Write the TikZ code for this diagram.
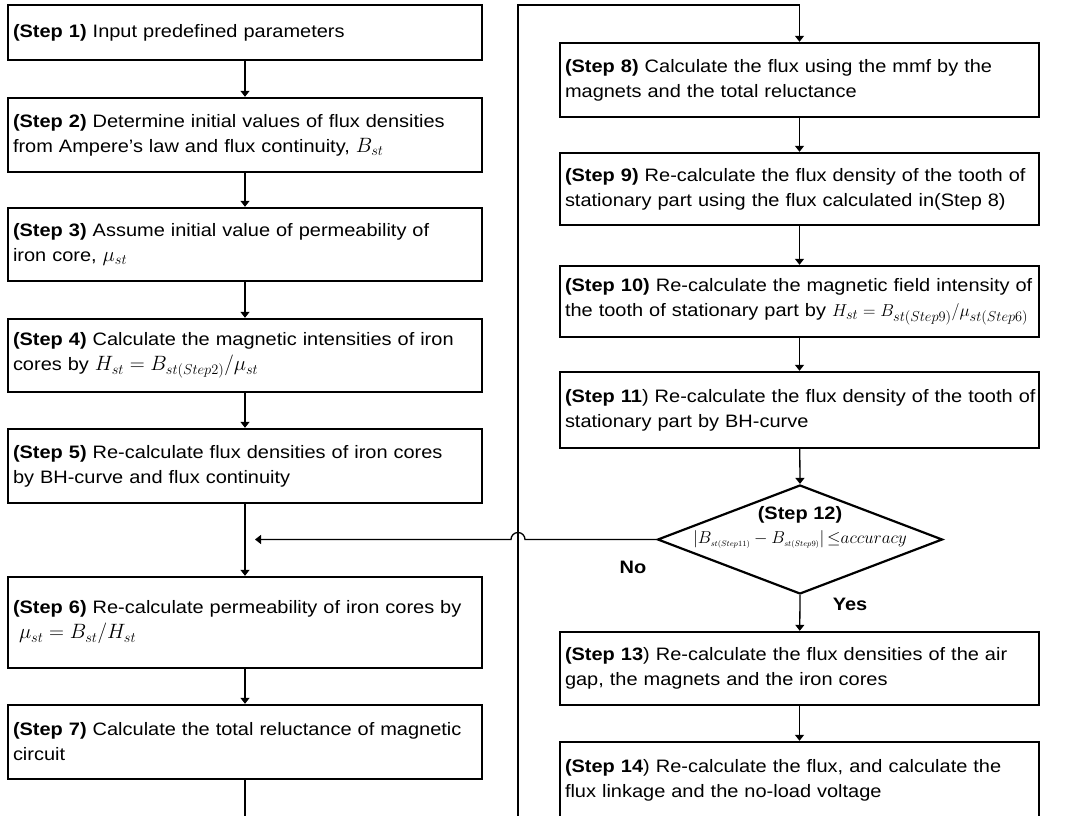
\documentclass[tikz,border=0pt]{standalone}
\usepackage{fontspec}
\setmainfont{Liberation Sans}[FakeStretch=1.11]
\usetikzlibrary{arrows.meta,shapes.geometric}
\newcommand{\mth}[1]{{\fontsize{21}{25}\selectfont$#1$}}

\begin{document}
\begin{tikzpicture}[x=1pt,y=1pt,
    >={Triangle[length=6pt,width=9pt]},
    stepbox/.style={draw,line width=2.4pt,rectangle,align=left,inner xsep=5pt,inner ysep=0pt,font=\fontsize{18}{25}\selectfont},
    leftbox/.style={stepbox,text width=464pt},
    rightbox/.style={stepbox,text width=469pt},
    link/.style={line width=1.3pt,->}]
    \clip (0,0) rectangle (1065,815);
    % left column
    \node[leftbox,minimum height=55pt] (b1) at (245,782.5) {\textbf{(Step 1)} Input predefined parameters};
    \node[leftbox,minimum height=74pt] (b2) at (245,680) {\textbf{(Step 2)} Determine initial values of flux densities\\from Ampere’s law and flux continuity, \mth{B_{st}}};
    \node[leftbox,minimum height=73pt] (b3) at (245,570.5) {\textbf{(Step 3)} Assume initial value of permeability of\\iron core, \mth{\mu_{st}}};
    \node[leftbox,minimum height=73pt] (b4) at (245,459.5) {\textbf{(Step 4)} Calculate the magnetic intensities of iron\\cores by \mth{H_{st}=B_{st(Step2)}\Big/\mu_{st}}};
    \node[leftbox,minimum height=74pt] (b5) at (245,349) {\textbf{(Step 5)} Re-calculate flux densities of iron cores\\by BH-curve and flux continuity};
    \node[leftbox,minimum height=91pt] (b6) at (245,192.5) {\mbox{\textbf{(Step 6)} Re-calculate permeability of iron cores by}\\\ \mth{\mu_{st}=B_{st}\Big/H_{st}}};
    \node[leftbox,minimum height=74pt] (b7) at (245,73) {\mbox{\textbf{(Step 7)} Calculate the total reluctance of magnetic}\\circuit};
    % right column
    \node[rightbox,minimum height=74pt] (b8) at (799.5,735) {\textbf{(Step 8)} Calculate the flux using the mmf by the\\magnets and the total reluctance};
    \node[rightbox,minimum height=72pt] (b9) at (799.5,626) {\textbf{(Step 9)} Re-calculate the flux density of the tooth of\\stationary part using the flux calculated in(Step 8)};
    \node[rightbox,minimum height=71pt] (b10) at (799.5,513.5) {\mbox{\textbf{(Step 10)} Re-calculate the magnetic field intensity of}\\\mbox{the tooth of stationary part by {\fontsize{19}{25}\selectfont$H_{st}=B_{st(Step9)}\Big/\mu_{st(Step6)}$}}};
    \node[rightbox,minimum height=76pt] (b11) at (799.5,405) {\mbox{\textbf{(Step 11}) Re-calculate the flux density of the tooth of}\\stationary part by BH-curve};
    \node[draw,diamond,line width=2.2pt,minimum width=285pt,minimum height=109pt,inner sep=0pt] (d12) at (800,275.5) {};
    \node[align=center,inner sep=0pt,font=\fontsize{18}{24}\selectfont] (d12t) at ([yshift=12pt]d12.center) {\textbf{(Step 12)}\\{\fontsize{16}{18}\selectfont$\left|B_{\scriptscriptstyle st(Step11)}-B_{\scriptscriptstyle st(Step9)}\right|{\le}accuracy$}};
    \node[rightbox,minimum height=73pt] (b13) at (799.5,146.5) {\textbf{(Step 13}) Re-calculate the flux densities of the air\\gap, the magnets and the iron cores};
    \node[rightbox,minimum height=76pt] (b14) at (799.5,35) {\textbf{(Step 14}) Re-calculate the flux, and calculate the\\flux linkage and the no-load voltage};
    \node[font=\bfseries\fontsize{18}{22}\selectfont] (no) at (633,248) {No};
    \node[font=\bfseries\fontsize{18}{22}\selectfont] (yes) at (850,211) {Yes};
    % connectors
    \draw[link] (b1) -- (b2);
    \draw[link] (b2) -- (b3);
    \draw[link] (b3) -- (b4);
    \draw[link] (b4) -- (b5);
    \draw[link] (b5) -- (b6);
    \draw[link] (b6) -- (b7);
    \draw[link] (b7.south) -- (245,-30) -- (518,-30) -- (518,810) -| (b8.north);
    \draw[link] (b8) -- (b9);
    \draw[link] (b9) -- (b10);
    \draw[link] (b10) -- (b11);
    \draw[link] (b11) -- (d12.north);
    \draw[link] (d12.south) -- (b13);
    \draw[link] (b13) -- (b14);
    \coordinate (fb) at (255,275.5);
    \draw[link] (d12.west) -- (525,275.5) arc[start angle=0,end angle=180,radius=7pt] -- (fb);
\end{tikzpicture}
\end{document}
